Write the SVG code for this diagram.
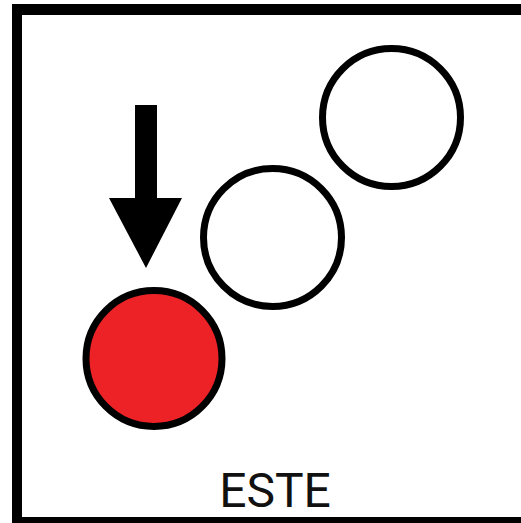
<svg xmlns="http://www.w3.org/2000/svg" width="521" height="523" viewBox="0 0 521 523">
<style>
.ring{fill:#fff;stroke:#000;stroke-width:7}
.red{fill:#ED2226;stroke:#000;stroke-width:7}
.lbl{font-family:Roboto,"Liberation Sans",sans-serif;font-size:48px;fill:#111;text-anchor:middle}
</style>
<rect width="521" height="523" fill="#fff"/>
<g id="frame" fill="#000">
<rect x="12" y="4" width="509" height="11"/>
<rect x="12" y="4" width="10" height="519"/>
<rect x="12" y="517" width="509" height="6"/>
</g>
<g id="circle-top"><circle class="ring" cx="391.5" cy="117.5" r="69"/></g>
<g id="circle-mid"><circle class="ring" cx="272.5" cy="237.5" r="69"/></g>
<g id="circle-red"><circle class="red" cx="154" cy="358.5" r="68"/></g>
<g id="connectors">
<path id="arrow" d="M135 105 H157 V198 H182 L146 268 L109 198 H135 Z" fill="#000"/>
</g>
<g id="label"><text class="lbl" x="275" y="507">ESTE</text></g>
</svg>
